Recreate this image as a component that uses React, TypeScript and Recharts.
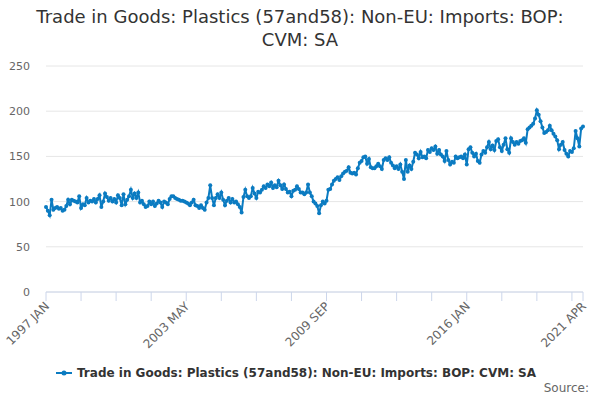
import { LineChart, Line, XAxis, YAxis, CartesianGrid } from "recharts";

const monthNames = ["JAN", "FEB", "MAR", "APR", "MAY", "JUN", "JUL", "AUG", "SEP", "OCT", "NOV", "DEC"];
const firstYear = 1997;

// index (volume) values, one per month
const values1997to2000 = [
  94, 90, 85, 102, 91, 93, 94, 92, 93, 90, 91, 95,
  102, 97, 102, 101, 100, 99, 106, 93, 97, 96, 104, 99,
  101, 100, 103, 99, 103, 107, 94, 100, 109, 105, 101, 104,
  100, 103, 99, 107, 104, 96, 108, 97, 102, 106, 113, 104,
];
const values2001to2004 = [
  109, 104, 110, 99, 101, 97, 94, 95, 100, 97, 100, 95,
  98, 101, 99, 94, 100, 99, 97, 103, 106, 106, 104, 103,
  102, 101, 101, 100, 99, 98, 96, 99, 102, 96, 95, 93,
  96, 93, 91, 99, 104, 118, 104, 96, 104, 108, 104, 110,
];
const values2005to2008 = [
  102, 96, 101, 104, 99, 103, 99, 100, 97, 94, 88, 105,
  113, 106, 104, 106, 115, 109, 104, 111, 110, 113, 117, 115,
  119, 117, 121, 115, 118, 116, 123, 118, 114, 119, 114, 110,
  111, 106, 112, 113, 117, 114, 110, 110, 108, 110, 119, 110,
];
const values2009to2012 = [
  106, 100, 98, 95, 87, 96, 100, 98, 101, 113, 114, 119,
  123, 125, 127, 124, 128, 131, 133, 134, 138, 132, 131, 132,
  130, 137, 143, 145, 149, 150, 142, 147, 138, 137, 137, 139,
  142, 139, 136, 146, 148, 146, 149, 143, 140, 137, 139, 136,
];
const values2013to2016 = [
  141, 133, 125, 146, 133, 140, 136, 144, 154, 152, 148, 155,
  149, 150, 148, 157, 155, 159, 157, 161, 153, 157, 152, 150,
  145, 156, 146, 141, 144, 143, 150, 148, 149, 150, 148, 152,
  141, 158, 160, 154, 150, 153, 145, 143, 152, 156, 154, 160,
];
const values2017to2021 = [
  166, 158, 162, 157, 167, 169, 160, 156, 163, 170, 158, 154,
  170, 166, 163, 166, 164, 167, 168, 170, 165, 180, 182, 184,
  186, 192, 201, 196, 189, 182, 176, 177, 179, 184, 179, 175,
  172, 168, 158, 163, 166, 157, 153, 150, 156, 155, 159, 178,
  170, 161, 181, 183,
];

const values = [
  ...values1997to2000,
  ...values2001to2004,
  ...values2005to2008,
  ...values2009to2012,
  ...values2013to2016,
  ...values2017to2021,
];

const months = values.map(
  (_, i) => `${firstYear + Math.floor(i / 12)} ${monthNames[i % 12]}`
);

const labelledTicks = ["1997 JAN", "2003 MAY", "2009 SEP", "2016 JAN", "2021 APR"];
// tick marks every 19 months, plus the last month
const tickMarks = [
  ...months.filter((_, i) => i % 19 === 0),
  months[months.length - 1],
];
const yTicks = [0, 50, 100, 150, 200, 250];

const seriesName = "Trade in Goods: Plastics (57and58): Non-EU: Imports: BOP: CVM: SA";
const blue = "#0b7bc1";

const data = months.map((m, i) => ({ month: m, value: values[i] }));

function MonthTick({ x, y, payload }: any) {
  if (!labelledTicks.includes(payload.value)) return <g />;
  return (
    <text
      x={x + 4}
      y={y + 4}
      textAnchor="end"
      fontSize={12}
      fill="#666"
      transform={`rotate(-45 ${x + 4} ${y + 4})`}
    >
      {payload.value}
    </text>
  );
}

export default function App() {
  const font = "'DejaVu Sans', sans-serif";
  return (
    <div style={{ position: "absolute", left: 0, top: 0, width: 600, height: 400, fontFamily: font }}>
      <div
        style={{
          position: "absolute",
          top: 5,
          left: 0,
          width: 600,
          textAlign: "center",
          fontSize: 18,
          lineHeight: "23px",
          color: "#333",
        }}
      >
        Trade in Goods: Plastics (57and58): Non-EU: Imports: BOP:
        <br />
        CVM: SA
      </div>
      <LineChart
        width={600}
        height={400}
        data={data}
        margin={{ top: 66, right: 17, bottom: 78, left: 0 }}
        style={{ fontFamily: font }}
      >
        <CartesianGrid vertical={false} stroke="#e6e6e6" />
        <XAxis
          dataKey="month"
          ticks={tickMarks}
          interval={0}
          tick={<MonthTick />}
          tickSize={9}
          tickMargin={2}
          height={30}
          stroke="#ccd6eb"
          tickLine={{ stroke: "#ccd6eb" }}
        />
        <YAxis
          domain={[0, 250]}
          ticks={yTicks}
          width={46}
          axisLine={false}
          tickLine={false}
          tickSize={8}
          tickMargin={8}
          tick={{ fontSize: 11, fill: "#666" }}
        />
        <Line
          type="linear"
          dataKey="value"
          stroke={blue}
          strokeWidth={2}
          dot={{ r: 2, fill: blue, stroke: blue, strokeWidth: 0 }}
          isAnimationActive={false}
        />
      </LineChart>
      <div
        style={{
          position: "absolute",
          top: 366,
          left: 56,
          display: "flex",
          alignItems: "center",
          fontSize: 12,
          fontWeight: "bold",
          color: "#333",
        }}
      >
        <svg width={16} height={10} style={{ marginRight: 5 }}>
          <line x1={0} y1={5} x2={16} y2={5} stroke={blue} strokeWidth={2} />
          <circle cx={8} cy={5} r={2.5} fill={blue} />
        </svg>
        {seriesName}
      </div>
      <div style={{ position: "absolute", top: 381, right: 11, fontSize: 12, color: "#666" }}>Source:</div>
    </div>
  );
}
